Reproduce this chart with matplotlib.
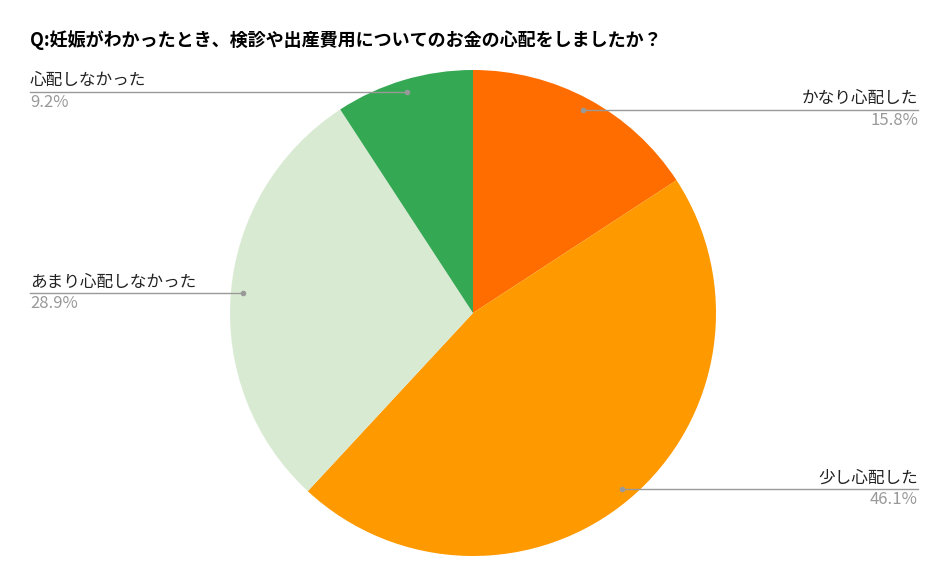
import numpy as np
import matplotlib
matplotlib.use("Agg")
import matplotlib.pyplot as plt
from matplotlib.lines import Line2D

plt.rcParams['font.family'] = ['Noto Sans CJK JP', 'DejaVu Sans']

title = "Q:妊娠がわかったとき、検診や出産費用についてのお金の心配をしましたか？"
labels = ["かなり心配した", "少し心配した", "あまり心配しなかった", "心配しなかった"]
values = [15.8, 46.1, 28.9, 9.2]
colors = ["#FF6D00", "#FF9900", "#D9EAD3", "#34A853"]

W, H = 948, 586
fig = plt.figure(figsize=(W/100, H/100), dpi=100)
ax = fig.add_axes([(473-243)/W, (H-313-243)/H, 486/W, 486/H])
wedges, _ = ax.pie(values, colors=colors, startangle=90, counterclock=False, radius=1.0)
ax.set_xlim(-1, 1); ax.set_ylim(-1, 1); ax.set_aspect('equal'); ax.axis('off')

fig.text(30/W, 1-40/H, title, fontsize=13, fontweight='bold', va='center', ha='left')

fig.canvas.draw()
toFig = ax.transData + fig.transFigure.inverted()
for w, lab, v in zip(wedges, labels, values):
    ang = np.deg2rad((w.theta1 + w.theta2) / 2)
    px, py = toFig.transform((0.95*np.cos(ang), 0.95*np.sin(ang)))
    right = np.cos(ang) > 0
    ex = 918/W if right else 30/W
    fig.add_artist(Line2D([px, ex], [py, py], color='#999999', lw=1))
    fig.add_artist(Line2D([px], [py], marker='o', ms=3, color='#999999'))
    ha = 'right' if right else 'left'
    fig.text(ex, py + 3/H, lab, fontsize=12, ha=ha, va='bottom', color='#222222')
    fig.text(ex, py - 2/H, f"{v}%", fontsize=12, ha=ha, va='top', color='#999999')

fig.savefig("out.png", dpi=100)
